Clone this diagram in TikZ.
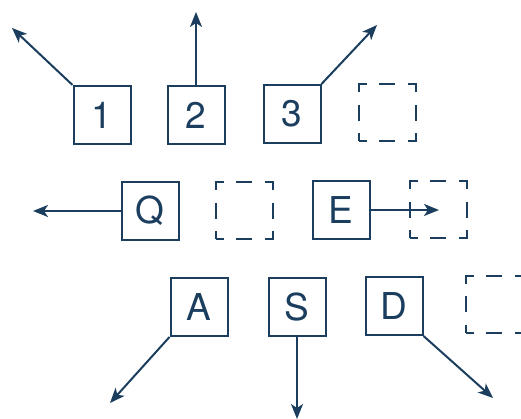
\documentclass[tikz,border=0pt]{standalone}
\usepackage{fontspec}
\setmainfont{TeX Gyre Heros}
\usetikzlibrary{arrows.meta}
\definecolor{ink}{HTML}{1B3D5E}
\tikzset{
  key/.style={draw=ink, line width=2pt, minimum width=57pt, minimum height=58pt, inner sep=0pt, text=ink, font=\fontsize{37}{37}\selectfont},
  ghost/.style={key, minimum height=57pt, dash pattern=on 16pt off 12.5pt, dash phase=8pt},
  conn/.style={draw=ink, line width=2pt, -{Stealth[length=15pt,width=12pt,inset=4pt]}}
}
\begin{document}
\begin{tikzpicture}[x=1pt,y=-1pt]
\useasboundingbox (0,0) rectangle (521,419);
% row 1
\node[key] (k1) at (102,115) {1};
\node[key] (k2) at (196,115) {2};
\node[key] (k3) at (292,114) {3};
\node[ghost] (g1) at (387,113) {};
% row 2
\node[key] (kq) at (150,211) {Q};
\node[ghost] (g2) at (244,211) {};
\node[key] (ke) at (341,210) {E};
\node[ghost] (g3) at (438,210) {};
% row 3
\node[key] (ka) at (199,307) {A};
\node[key] (ks) at (297,307) {S};
\node[key] (kd) at (394,306) {D};
\node[ghost] (g4) at (494,304) {};
% free ends
\coordinate (t1) at (12,28);
\coordinate (t2) at (196,12);
\coordinate (t3) at (377,25);
\coordinate (tq) at (33,211);
\coordinate (te) at (439,210);
\coordinate (ta) at (110,403);
\coordinate (ts) at (297,419);
\coordinate (td) at (493,398);
\draw[conn] (k1.north west) -- (t1);
\draw[conn] (k2.north) -- (t2);
\draw[conn] (k3.north east) -- (t3);
\draw[conn] (kq.west) -- (tq);
\draw[conn] (ke.east) -- (te);
\draw[conn] (ka.south west) -- (ta);
\draw[conn] (ks.south) -- (ts);
\draw[conn] (kd.south east) -- (td);
\end{tikzpicture}
\end{document}
